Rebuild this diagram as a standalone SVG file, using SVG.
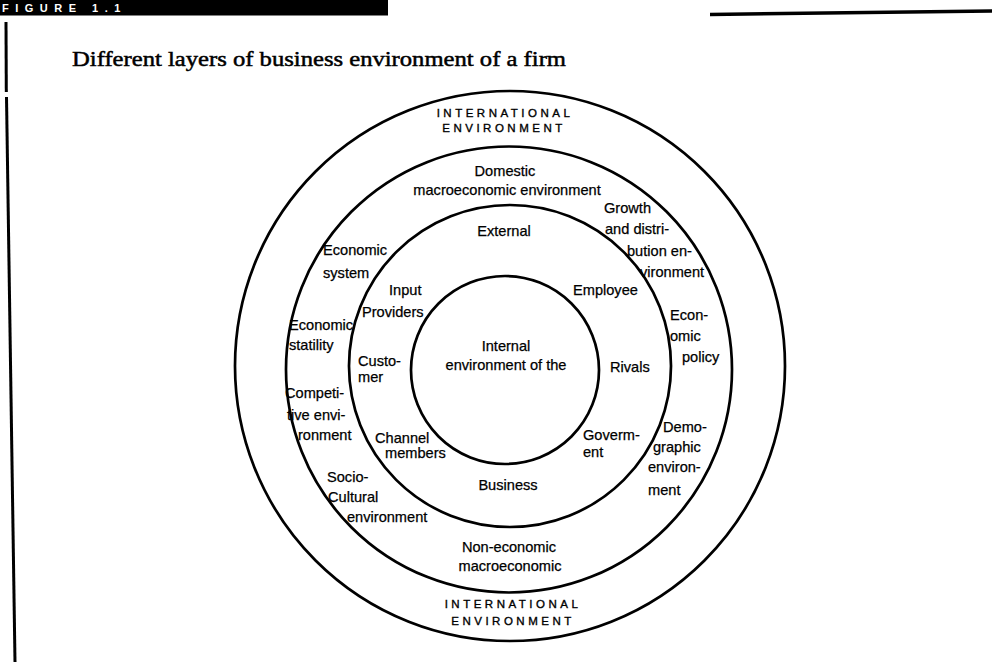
<svg xmlns="http://www.w3.org/2000/svg" width="992" height="662" viewBox="0 0 992 662">
<style>
.ring{fill:none;stroke:#000;stroke-width:2.7}
.t{font-family:"Liberation Sans",Arial,sans-serif;font-size:14.6px;fill:#000;stroke:#000;stroke-width:0.25}
.c{text-anchor:middle}
.cap{font-family:"Liberation Sans",Arial,sans-serif;font-size:11.5px;letter-spacing:3.5px;fill:#000;stroke:#000;stroke-width:0.35;text-anchor:middle}
.rule{stroke:#000;fill:none}
</style>
<rect width="992" height="662" fill="#fff"/>
<g id="header">
<rect x="0" y="0" width="388" height="15.5" fill="#000"/>
<text x="2" y="12" font-family="Liberation Sans,Arial,sans-serif" font-size="11" font-weight="bold" letter-spacing="6.5" fill="#fff">FIGURE 1.1</text>
<line class="rule" x1="710" y1="14.5" x2="992" y2="11" stroke-width="3.5"/>
<polyline class="rule" points="6,22 6.3,92" stroke-width="3"/>
<polyline class="rule" points="6.5,97 15,662" stroke-width="3"/>
</g>
<g id="title">
<text x="72" y="65.5" font-family="Liberation Serif,Times New Roman,serif" font-size="22" textLength="494" lengthAdjust="spacingAndGlyphs" fill="#000" stroke="#000" stroke-width="0.5">Different layers of business environment of a firm</text>
</g>
<g id="international">
<circle class="ring" cx="510" cy="366" r="275"/>
<text class="cap" x="505" y="117">INTERNATIONAL</text>
<text class="cap" x="504" y="132">ENVIRONMENT</text>
<text class="cap" x="513" y="608">INTERNATIONAL</text>
<text class="cap" x="513" y="625">ENVIRONMENT</text>
</g>
<g id="domestic">
<circle class="ring" cx="509" cy="369.5" r="223"/>
<text class="t c" x="505" y="176">Domestic</text>
<text class="t c" x="507" y="195">macroeconomic environment</text>
<text class="t" x="604" y="213">Growth</text>
<text class="t" x="605" y="234">and distri-</text>
<text class="t" x="627" y="256">bution en-</text>
<text class="t" x="640" y="277">vironment</text>
<text class="t" x="670" y="320">Econ-</text>
<text class="t" x="670" y="341">omic</text>
<text class="t" x="682" y="362">policy</text>
<text class="t" x="663" y="432">Demo-</text>
<text class="t" x="653" y="452">graphic</text>
<text class="t" x="648" y="472">environ-</text>
<text class="t" x="648" y="495">ment</text>
<text class="t c" x="509" y="552">Non-economic</text>
<text class="t c" x="510" y="571">macroeconomic</text>
<text class="t" x="323" y="255">Economic</text>
<text class="t" x="323" y="278">system</text>
<text class="t" x="289" y="330">Economic</text>
<text class="t" x="289" y="350">statility</text>
<text class="t" x="285" y="398">Competi-</text>
<text class="t" x="287" y="420">tive envi-</text>
<text class="t" x="298" y="440">ronment</text>
<text class="t" x="327" y="482">Socio-</text>
<text class="t" x="328" y="502">Cultural</text>
<text class="t" x="347" y="522">environment</text>
</g>
<g id="external">
<circle class="ring" cx="510" cy="366" r="161"/>
<text class="t c" x="504" y="236">External</text>
<text class="t" x="389" y="295">Input</text>
<text class="t" x="362" y="317">Providers</text>
<text class="t" x="358" y="366">Custo-</text>
<text class="t" x="358" y="382">mer</text>
<text class="t" x="375" y="443">Channel</text>
<text class="t" x="385" y="458">members</text>
<text class="t" x="573" y="295">Employee</text>
<text class="t" x="610" y="372">Rivals</text>
<text class="t" x="583" y="440">Goverm-</text>
<text class="t" x="583" y="457">ent</text>
<text class="t c" x="508" y="490">Business</text>
</g>
<g id="internal">
<circle class="ring" cx="505" cy="370" r="94"/>
<text class="t c" x="506" y="351">Internal</text>
<text class="t c" x="506" y="370">environment of the</text>
</g>
</svg>
